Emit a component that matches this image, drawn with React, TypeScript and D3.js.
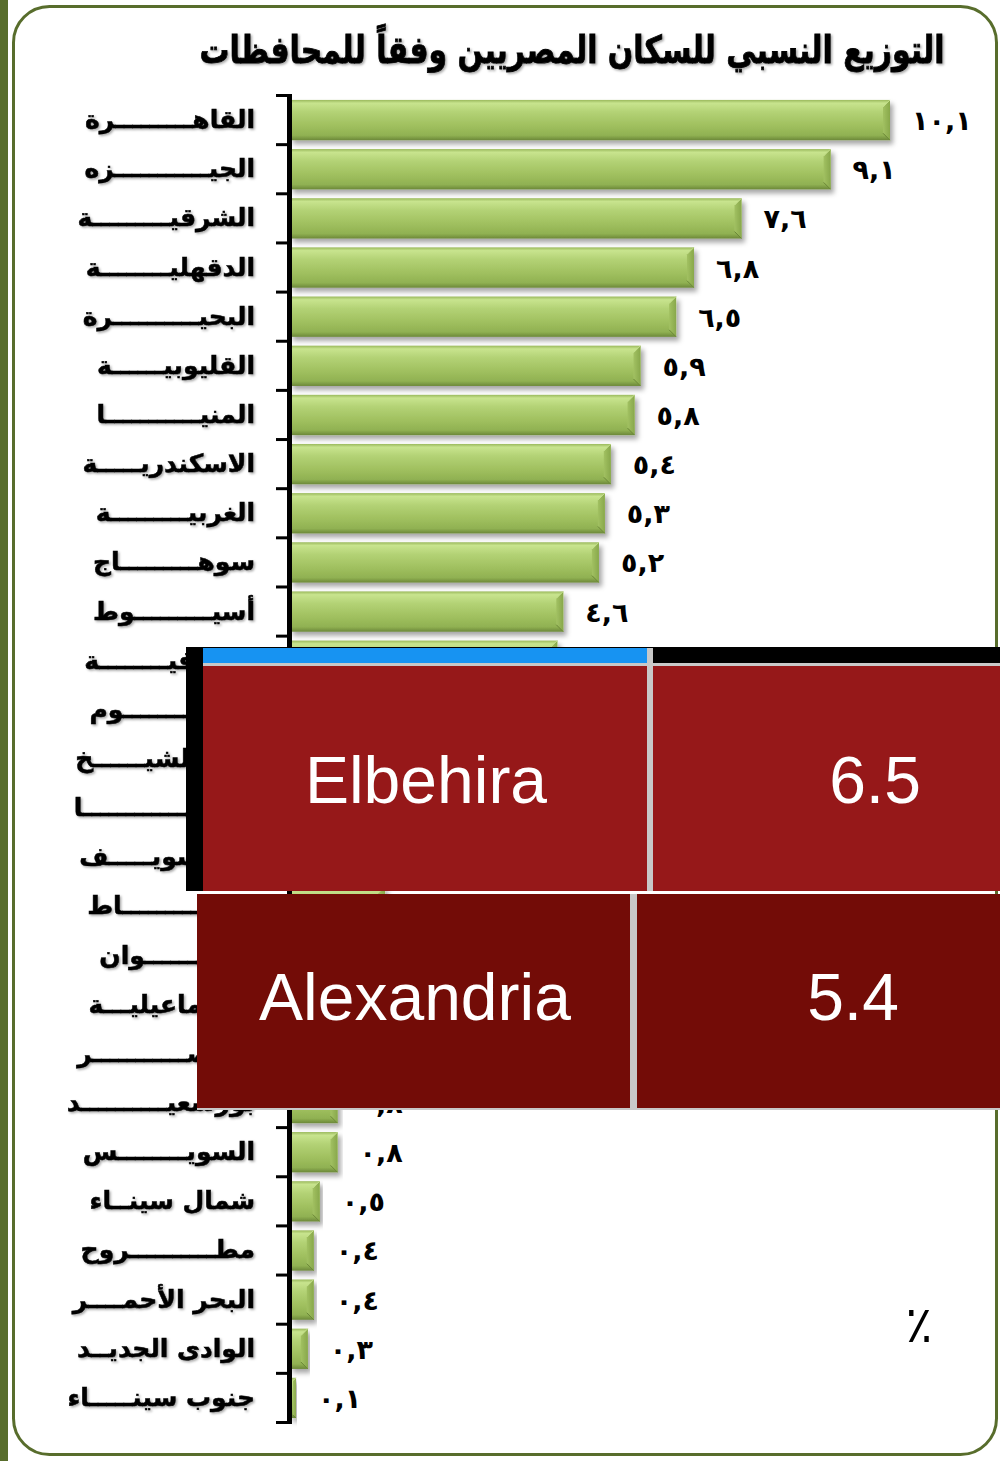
import React from "react";
import * as d3 from "d3";

const titleText = "التوزيع النسبي للسكان المصريين وفقاً للمحافظات";

// governorate names, written with kashida (tatweel) stretching as in the source
const K = "ـ";
const kashida = (head: string, n: number, tail: string) => head + K.repeat(n) + tail;

const governorates = [
  kashida("القاه", 9, "رة"),
  kashida("الجي", 11, "زه"),
  kashida("الشرقي", 9, "ة"),
  kashida("الدقهلي", 8, "ة"),
  kashida("البحي", 10, "رة"),
  kashida("القليوبي", 6, "ة"),
  kashida("المني", 11, "ا"),
  kashida("الاسكندري", 5, "ة"),
  kashida("الغربي", 9, "ة"),
  kashida("سوه", 9, "اج"),
  kashida("أسي", 9, "وط"),
  kashida("المنوفي", 8, "ة"),
  kashida("الفي", 10, "وم"),
  kashida("كفر الشي", 6, "خ"),
  kashida("قن", 17, "ا"),
  kashida("بنى سوي", 5, "ف"),
  kashida("دمي", 11, "اط"),
  kashida("أس", 9, "وان"),
  kashida("الاسماعيلي", 3, "ة"),
  kashida("الأقص", 11, "ر"),
  kashida("بورسعي", 10, "د"),
  kashida("السوي", 8, "س"),
  kashida("شمال سين", 2, "اء"),
  kashida("مط", 10, "روح"),
  kashida("البحر الأحم", 4, "ر"),
  kashida("الوادى الجدي", 2, "د"),
  kashida("جنوب سين", 5, "اء"),
];

const shares = [
  10.1, 9.1, 7.6, 6.8, 6.5, 5.9, 5.8, 5.4, 5.3, 5.2, 4.6, 4.5, 3.8, 3.5, 3.3,
  3.3, 1.6, 1.6, 1.4, 1.3, 0.8, 0.8, 0.5, 0.4, 0.4, 0.3, 0.1,
];

const unitLabel = "٪";

const tableNames = ["Elbehira", "Alexandria"];
const tableValues = ["6.5", "5.4"];

const arabicDigits = "٠١٢٣٤٥٦٧٨٩";
const toArabic = (v: number) =>
  v
    .toFixed(1)
    .replace(".", ",")
    .replace(/[0-9]/g, (d) => arabicDigits[+d]);

const AR_FONT = "'DejaVu Sans', sans-serif";
const OLIVE = "#586d2c";

export default function App() {
  const W = 1000;
  const H = 1461;

  const x = d3.scaleLinear().domain([0, 10.1]).range([290, 890]);
  const y = d3
    .scaleBand<number>()
    .domain(d3.range(governorates.length))
    .range([95.5, 1422.5])
    .paddingInner(0.18)
    .paddingOuter(0.09);
  const step = y.step();
  const bw = y.bandwidth();
  const boundaries = d3.range(governorates.length + 1).map(
    (i) => 95.5 + i * step
  );

  const axisX = 289.5;

  return (
    <svg
      width={W}
      height={H}
      viewBox={`0 0 ${W} ${H}`}
      style={{ position: "absolute", left: 0, top: 0, display: "block", background: "#fff" }}
    >
      <defs>
        <linearGradient id="barGrad" x1="0" y1="0" x2="0" y2="1">
          <stop offset="0" stopColor="#9ab95c" />
          <stop offset="0.08" stopColor="#c8e48e" />
          <stop offset="0.3" stopColor="#b3d275" />
          <stop offset="0.65" stopColor="#9fbf5e" />
          <stop offset="0.88" stopColor="#90b152" />
          <stop offset="1" stopColor="#6c8839" />
        </linearGradient>
        <linearGradient id="bevelR" x1="0" y1="0" x2="1" y2="0">
          <stop offset="0" stopColor="#a2c162" />
          <stop offset="1" stopColor="#88a84b" />
        </linearGradient>
        <filter id="barShadow" x="-5%" y="-20%" width="115%" height="160%">
          <feDropShadow dx="3" dy="4" stdDeviation="2.5" floodColor="#000" floodOpacity="0.35" />
        </filter>
        <filter id="txtShadow" x="-5%" y="-20%" width="110%" height="150%">
          <feDropShadow dx="1.5" dy="1.5" stdDeviation="1" floodColor="#000" floodOpacity="0.35" />
        </filter>
      </defs>

      {/* frame */}
      <rect x={0} y={0} width={8} height={H} fill={OLIVE} />
      <rect
        x={13.5}
        y={6.5}
        width={983}
        height={1448}
        rx={36}
        ry={36}
        fill="none"
        stroke={OLIVE}
        strokeWidth={3}
      />

      {/* title */}
      <text
        x={572}
        y={63}
        textAnchor="middle"
        fontFamily={AR_FONT}
        fontWeight="bold"
        fontSize={38}
        textLength={745}
        lengthAdjust="spacingAndGlyphs"
        fill="#000"
        stroke="#000"
        strokeWidth={0.8}
        filter="url(#txtShadow)"
      >
        {titleText}
      </text>

      {/* bars */}
      {governorates.map((g, i) => {
        const v = shares[i];
        const x0 = x(0);
        const x1 = x(v);
        const y0 = y(i)!;
        const y1 = y0 + bw;
        const w = x1 - x0;
        const b = Math.min(7, w / 2);
        return (
          <g key={i} filter="url(#barShadow)">
            <rect x={x0} y={y0} width={w} height={bw} fill="url(#barGrad)" />
            <polygon
              points={`${x1 - b},${y0 + b} ${x1},${y0} ${x1},${y1} ${x1 - b},${y1 - b}`}
              fill="url(#bevelR)"
            />
            <line x1={x1 - b} y1={y0 + b} x2={x1} y2={y0} stroke="#c4df8c" strokeWidth={1} />
            <line x1={x1 - b} y1={y1 - b} x2={x1} y2={y1} stroke="#6a8637" strokeWidth={1} />
          </g>
        );
      })}

      {/* value labels */}
      {governorates.map((g, i) => (
        <text
          key={i + "v"}
          x={x(shares[i]) + 22}
          y={y(i)! + bw / 2 + 10}
          direction="ltr"
          fontFamily={AR_FONT}
          fontWeight="bold"
          fontSize={27}
          letterSpacing={7}
          fill="#000"
        >
          {toArabic(shares[i])}
        </text>
      ))}

      {/* axis */}
      <line x1={axisX} y1={94} x2={axisX} y2={1424} stroke="#000" strokeWidth={5} />
      {boundaries.map((b, i) => (
        <line key={i} x1={276} y1={b} x2={axisX} y2={b} stroke="#000" strokeWidth={3} />
      ))}

      {/* category labels */}
      {governorates.map((g, i) => (
        <text
          key={i + "l"}
          x={255}
          y={y(i)! + bw / 2 + 8}
          textAnchor="end"
          fontFamily={AR_FONT}
          fontWeight="bold"
          fontSize={25}
          fill="#000"
          stroke="#000"
          strokeWidth={0.5}
          filter="url(#txtShadow)"
        >
          {g}
        </text>
      ))}

      {/* unit */}
      <text x={919} y={1342} textAnchor="middle" fontFamily={AR_FONT} fontSize={50} fill="#000">
        {unitLabel}
      </text>

      {/* overlay table 1 */}
      <g>
        <rect x={186} y={647} width={814} height={244} fill="#000" />
        <rect x={203} y={648} width={444} height={15} fill="#1793f2" />
        <rect x={647} y={648} width={353} height={243} fill="#c8c8c8" />
        <rect x={203} y={663} width={444} height={3} fill="#c8c8c8" />
        <rect x={203} y={666} width={444} height={225} fill="#961819" />
        <rect x={653} y={648} width={347} height={15} fill="#000" />
        <rect x={653} y={666} width={347} height={225} fill="#961819" />
        <text
          x={426}
          y={803}
          textAnchor="middle"
          fontFamily="'Liberation Sans', Arial, sans-serif"
          fontSize={66}
          fill="#fff"
        >
          {tableNames[0]}
        </text>
        <text
          x={875}
          y={803}
          textAnchor="middle"
          fontFamily="'Liberation Sans', Arial, sans-serif"
          fontSize={66}
          fill="#fff"
        >
          {tableValues[0]}
        </text>
      </g>

      {/* overlay table 2 */}
      <g>
        <rect x={197} y={894} width={803} height={216} fill="#730c07" />
        <rect x={630} y={894} width={7} height={216} fill="#c8c8c8" />
        <rect x={197} y={1108} width={803} height={2} fill="#c8c8c8" />
        <text
          x={415}
          y={1020}
          textAnchor="middle"
          fontFamily="'Liberation Sans', Arial, sans-serif"
          fontSize={66}
          fill="#fff"
        >
          {tableNames[1]}
        </text>
        <text
          x={853}
          y={1020}
          textAnchor="middle"
          fontFamily="'Liberation Sans', Arial, sans-serif"
          fontSize={66}
          fill="#fff"
        >
          {tableValues[1]}
        </text>
      </g>
    </svg>
  );
}
